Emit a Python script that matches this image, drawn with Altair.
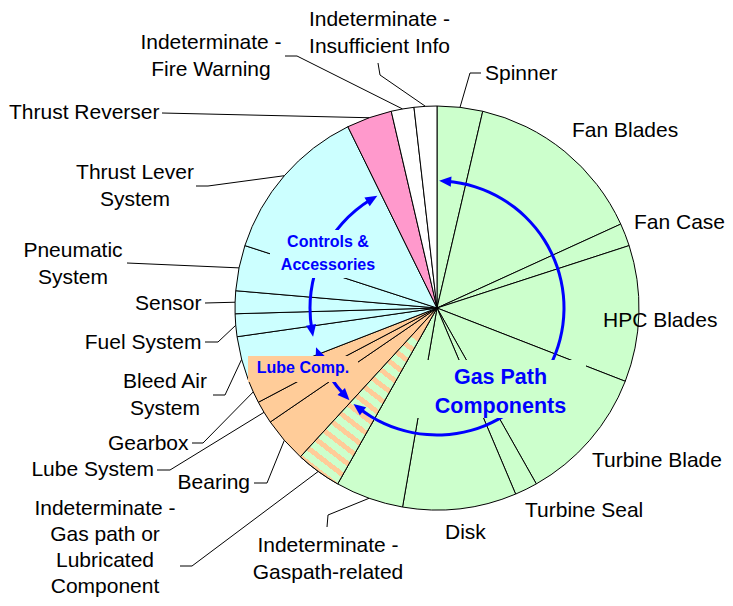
import altair as alt
import pandas as pd
import numpy as np

# ---------------- data ----------------
labels = ["Spinner", "Fan Blades", "Fan Case", "HPC Blades", "Turbine Blade",
          "Turbine Seal", "Disk", "Indeterminate -\nGaspath-related",
          "Indeterminate -\nGas path or\nLubricated\nComponent",
          "Bearing", "Lube System", "Gearbox", "Bleed Air\nSystem", "Fuel System",
          "Sensor", "Pneumatic\nSystem", "Thrust Lever\nSystem", "Thrust Reverser",
          "Indeterminate -\nFire Warning", "Indeterminate -\nInsufficient Info"]
counts = [2, 8, 1, 6, 6, 1, 5, 3, 2, 2, 1, 1, 2, 1, 1, 2, 7, 2, 1, 1]
groups = (["Gas Path"] * 8 + ["Mixed"] + ["Lube"] * 3 + ["Controls"] * 5
          + ["Reverser", "Indeterminate", "Indeterminate"])

group_names = ["Gas Path", "Mixed", "Lube", "Controls", "Reverser", "Indeterminate"]
group_colors = ["#CCFFCC", "#CCFFCC", "#FFCC99", "#CCFFFF", "#FF99CC", "#FFFFFF"]

group_text = ["Gas Path\nComponents", "Lube Comp.", "Controls &\nAccessories"]
# angular extent (degrees) of each group bracket arrow (tip to tip)
bracket_from = [1.0, 223.5, 257.0]
bracket_to = [221.0, 252.0, 332.0]

# ---------------- layout (reference pixel coordinates) ----------------
CX, CY, R = 437, 308, 202
OFF = 8
W, H = 717, 590

label_x = [485, 572, 634, 603, 592, 525, 445, 328, 105, 250, 154, 188.5, 165, 201.5,
           201.5, 73, 135, 159.5, 211, 379.5]
# vertical centre of the first text line
label_y = [74, 131, 222.5, 320.5, 461, 511, 532.5, 545.8, 509, 482.5, 469.5, 443.5,
           381.5, 342.5, 304, 250.8, 172.8, 113, 43.3, 20]
label_lh = [27] * 8 + [26] + [27] * 11
label_align = ["left"] * 7 + ["center", "center", "right", "right", "right", "center",
                              "right", "right", "center", "center", "right", "center",
                              "center"]
leader_elbow = [(470, 73), None, None, None, None, None, None, (328, 515), (192, 566),
                (267, 483), (170, 470), (203, 443), (225, 395), (218, 342), (205, 303),
                (127, 263), (208, 186), (162, 113), (297, 56), (380, 75)]
leader_end = [(481, 73), None, None, None, None, None, None, (327, 527), (180, 566),
              (254, 483), (157, 470), (192, 443), (213, 395), (205, 342), (205, 303),
              (127, 263), (196, 186), (162, 113), (285, 56), (378, 63)]

group_text_x = [500.5, 303, 328]
group_text_y = [378, 368, 242]
group_text_size = [21.5, 16, 16]
group_line_h = [28.5, 20, 22.5]
group_box = [(414, 360, 586, 418), (248, 356, 358, 382), (270, 230, 386, 278)]
group_box_fill = ["#CCFFCC", "#FFCC99", "#CCFFFF"]

FONT = "Liberation Sans, Arial, sans-serif"
BLUE = "#0000FF"

# ---------------- derived tables ----------------
total = sum(counts)
cum = np.cumsum(counts)
a1 = cum / total * 360.0
a0 = a1 - np.array(counts) / total * 360.0
slices = pd.DataFrame({"label": labels, "count": counts, "group": groups,
                       "a0": a0, "a1": a1})

mid = np.radians((a0 + a1) / 2)
rows = []
for i, lab in enumerate(labels):
    if leader_end[i] is None:
        continue
    ex = CX + R * np.sin(mid[i])
    ey = CY - R * np.cos(mid[i])
    pts = [(ex, ey), leader_elbow[i], leader_end[i]]
    for k, (px, py) in enumerate(pts):
        rows.append({"label": lab, "seq": k, "px": px, "py": py})
leaders = pd.DataFrame(rows)

texts = pd.DataFrame({"label": labels, "tx": label_x, "ty": label_y,
                      "align": label_align, "lh": label_lh})

ARR_R = 127
delta = np.degrees(7.0 / ARR_R)
arcs = pd.DataFrame({"g": group_text,
                     "b0": np.array(bracket_from) + delta,
                     "b1": np.array(bracket_to) - delta})
arr_rows = []
for i, g in enumerate(group_text):
    for ang, rot_off in ((bracket_from[i] + delta, 270), (bracket_to[i] - delta, 90)):
        r = np.radians(ang)
        arr_rows.append({"g": g, "px": CX + ARR_R * np.sin(r), "py": CY - ARR_R * np.cos(r),
                         "rot": (ang + rot_off) % 360})
arrows = pd.DataFrame(arr_rows)

boxes = pd.DataFrame({"g": group_text,
                      "bx0": [b[0] for b in group_box], "by0": [b[1] for b in group_box],
                      "bx1": [b[2] for b in group_box], "by1": [b[3] for b in group_box],
                      "fill": group_box_fill})

# ---------------- scales ----------------
xs = alt.Scale(domain=[OFF, OFF + W], range=[0, W], nice=False, zero=False)
ys = alt.Scale(domain=[OFF, OFF + H], range=[0, H], nice=False, zero=False)
ts = alt.Scale(domain=[0, 360], nice=False, zero=False)
cx = alt.value(CX - OFF)
cy = alt.value(CY - OFF)

pie = alt.Chart(slices).mark_arc(radius=R, stroke="black", strokeWidth=1).encode(
    theta=alt.Theta("a0:Q", scale=ts, stack=None),
    theta2="a1:Q",
    fill=alt.Fill("group:N", scale=alt.Scale(domain=group_names, range=group_colors),
                  legend=None),
    x=cx, y=cy,
)

N = 16
stops = []
for i in range(N):
    s0 = i / N
    s1 = (i + 0.58) / N
    s2 = min((i + 1) / N, 1.0)
    stops += [{"offset": s0, "color": "#CCFFCC"}, {"offset": s1, "color": "#CCFFCC"},
              {"offset": s1, "color": "#FFCC99"}, {"offset": s2, "color": "#FFCC99"}]
grad = {"gradient": "linear", "x1": 0, "y1": 1, "x2": 0.6, "y2": 0, "stops": stops}

stripes = alt.Chart(slices).transform_filter(alt.datum.group == "Mixed").mark_arc(
    radius=R, stroke="black", strokeWidth=1, fill=grad).encode(
    theta=alt.Theta("a0:Q", scale=ts, stack=None), theta2="a1:Q", x=cx, y=cy)

blue_arcs = alt.Chart(arcs).mark_arc(radius=ARR_R + 1.5, radius2=ARR_R - 1.5,
                                     fill=BLUE).encode(
    theta=alt.Theta("b0:Q", scale=ts, stack=None), theta2="b1:Q", x=cx, y=cy)

arrow_pts = alt.Chart(arrows).mark_point(
    shape="M0,-1L0.72,0.7L-0.72,0.7Z", filled=True, fill=BLUE, size=200, opacity=1,
    strokeWidth=0).encode(
    x=alt.X("px:Q", scale=xs, axis=None),
    y=alt.Y("py:Q", scale=ys, axis=None),
    angle=alt.Angle("rot:Q", scale=None),
)

leader_lines = alt.Chart(leaders).mark_line(color="black", strokeWidth=1).encode(
    x=alt.X("px:Q", scale=xs, axis=None),
    y=alt.Y("py:Q", scale=ys, axis=None),
    detail="label:N",
    order="seq:O",
)

box_layer = alt.Chart(boxes).mark_rect().encode(
    x=alt.X("bx0:Q", scale=xs, axis=None), x2="bx1:Q",
    y=alt.Y("by0:Q", scale=ys, axis=None), y2="by1:Q",
    fill=alt.Fill("fill:N", scale=None),
)

gdf = pd.DataFrame({"g": group_text, "tx": group_text_x, "ty": group_text_y})
group_layers = []
for i, g in enumerate(group_text):
    group_layers.append(
        alt.Chart(gdf).transform_filter(alt.datum.g == g).mark_text(
            font=FONT, fontWeight="bold", fontSize=group_text_size[i], color=BLUE,
            lineBreak="\n", lineHeight=group_line_h[i], align="center",
            baseline="middle").encode(
            x=alt.X("tx:Q", scale=xs, axis=None),
            y=alt.Y("ty:Q", scale=ys, axis=None),
            text="g:N")
    )

label_layers = []
for al in ["left", "center", "right"]:
    for lh in sorted(set(label_lh)):
        label_layers.append(
            alt.Chart(texts).transform_filter(
                (alt.datum.align == al) & (alt.datum.lh == lh)).mark_text(
                font=FONT, fontSize=21, color="black", lineBreak="\n", lineHeight=lh,
                align=al, baseline="middle").encode(
                x=alt.X("tx:Q", scale=xs, axis=None),
                y=alt.Y("ty:Q", scale=ys, axis=None),
                text="label:N")
        )

chart = alt.layer(pie, stripes, blue_arcs, arrow_pts, leader_lines, box_layer,
                  *group_layers, *label_layers).properties(
    width=W, height=H, autosize=alt.AutoSizeParams(type="none"), padding=0,
    background="white",
).configure_view(stroke=None)

chart.save("out.html", embed_options={"renderer": "svg", "actions": False})
